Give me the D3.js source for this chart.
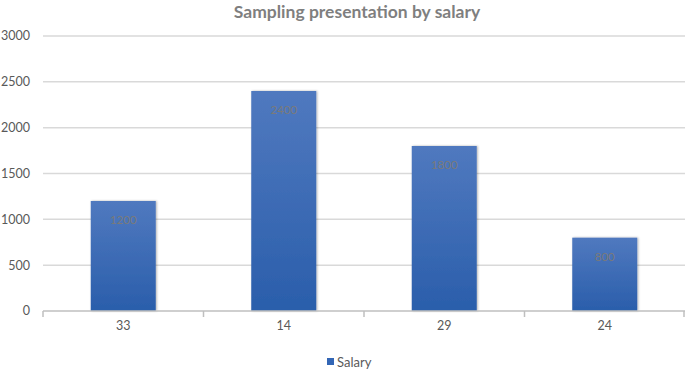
<!DOCTYPE html>
<html>
<head>
<meta charset="utf-8">
<script src="https://d3js.org/d3.v7.min.js"></script>
<style>
  body { margin: 0; background: #fff; }
  svg { display: block; font-family: Lato, "Open Sans", sans-serif; }
</style>
</head>
<body>
<svg width="685" height="372"></svg>
<script>
// chart data
let categories = ["33", "14", "29", "24"];
let salary = [1200, 2400, 1800, 800];
let yTicks = [0, 500, 1000, 1500, 2000, 2500, 3000];

let svg = d3.select('svg');
let margin = { top: 36, bottom: 61, right: 0, left: 43 };
let width = 685, height = 372;
let innerWidth = width - margin.left - margin.right;
let innerHeight = height - margin.top - margin.bottom;

let defs = svg.append('defs');
let grad = defs.append('linearGradient')
    .attr('id', 'barGrad')
    .attr('x1', 0).attr('y1', 0).attr('x2', 0).attr('y2', 1);
grad.append('stop').attr('offset', '0%').attr('stop-color', '#5079bf');
grad.append('stop').attr('offset', '100%').attr('stop-color', '#2a5eab');
let filt = defs.append('filter').attr('id', 'shadow')
    .attr('x', '-10%').attr('y', '-10%').attr('width', '130%').attr('height', '120%');
filt.append('feDropShadow').attr('dx', 1).attr('dy', 0).attr('stdDeviation', 1.2)
    .attr('flood-color', '#000').attr('flood-opacity', 0.3);

const g = svg.append('g').attr('transform', `translate(${margin.left},${margin.top})`);

const xScale = d3.scaleBand().domain(categories).range([0, innerWidth]).padding(0);
const yScale = d3.scaleLinear().domain([0, 3000]).range([innerHeight, 0]);

// title
svg.append('text')
    .attr('x', 357).attr('y', 18)
    .attr('text-anchor', 'middle')
    .style('font-size', '17.5px').style('font-weight', 'bold').style('fill', '#7f7f7f')
    .text('Sampling presentation by salary');

// gridlines
g.selectAll('.grid')
    .data(yTicks.filter(d => d > 0))
    .enter().append('line')
    .attr('x1', 0).attr('x2', innerWidth)
    .attr('y1', d => yScale(d)).attr('y2', d => yScale(d))
    .style('stroke', '#d9d9d9').style('stroke-width', 1.5);

// y labels
g.selectAll('.ylab')
    .data(yTicks)
    .enter().append('text')
    .attr('x', -13).attr('y', d => yScale(d))
    .attr('dy', '0.35em')
    .attr('text-anchor', 'end')
    .style('font-size', '12.5px').style('fill', '#595959')
    .text(d => d);

// bars
let barW = xScale.bandwidth() * 0.405;
g.selectAll('.bar')
    .data(salary)
    .enter().append('rect')
    .attr('x', (d, i) => xScale(categories[i]) + xScale.bandwidth() / 2 - barW / 2)
    .attr('y', d => yScale(d))
    .attr('width', barW)
    .attr('height', d => innerHeight - yScale(d))
    .style('fill', 'url(#barGrad)')
    .attr('filter', 'url(#shadow)');

// bar labels
g.selectAll('.blab')
    .data(salary)
    .enter().append('text')
    .attr('x', (d, i) => xScale(categories[i]) + xScale.bandwidth() / 2)
    .attr('y', d => yScale(d) + 23)
    .attr('text-anchor', 'middle')
    .style('font-size', '11.5px').style('fill', '#7a7a7a')
    .text(d => d);

// x axis
g.append('line')
    .attr('x1', 0).attr('x2', innerWidth)
    .attr('y1', innerHeight).attr('y2', innerHeight)
    .style('stroke', '#bfbfbf').style('stroke-width', 1.5);
let boundaries = categories.map(c => xScale(c)).concat([innerWidth - 1]);
g.selectAll('.xtick')
    .data(boundaries)
    .enter().append('line')
    .attr('x1', d => d).attr('x2', d => d)
    .attr('y1', innerHeight).attr('y2', innerHeight + 6)
    .style('stroke', '#bfbfbf').style('stroke-width', 1.5);
g.selectAll('.xlab')
    .data(categories)
    .enter().append('text')
    .attr('x', d => xScale(d) + xScale.bandwidth() / 2)
    .attr('y', innerHeight + 19)
    .attr('text-anchor', 'middle')
    .style('font-size', '12.5px').style('fill', '#595959')
    .text(d => d);

// legend
svg.append('rect')
    .attr('x', 327).attr('y', 358).attr('width', 7).attr('height', 7)
    .style('fill', '#3366b5');
svg.append('text')
    .attr('x', 337).attr('y', 362)
    .attr('dy', '0.35em')
    .style('font-size', '13px').style('fill', '#595959')
    .text('Salary');
</script>
</body>
</html>
